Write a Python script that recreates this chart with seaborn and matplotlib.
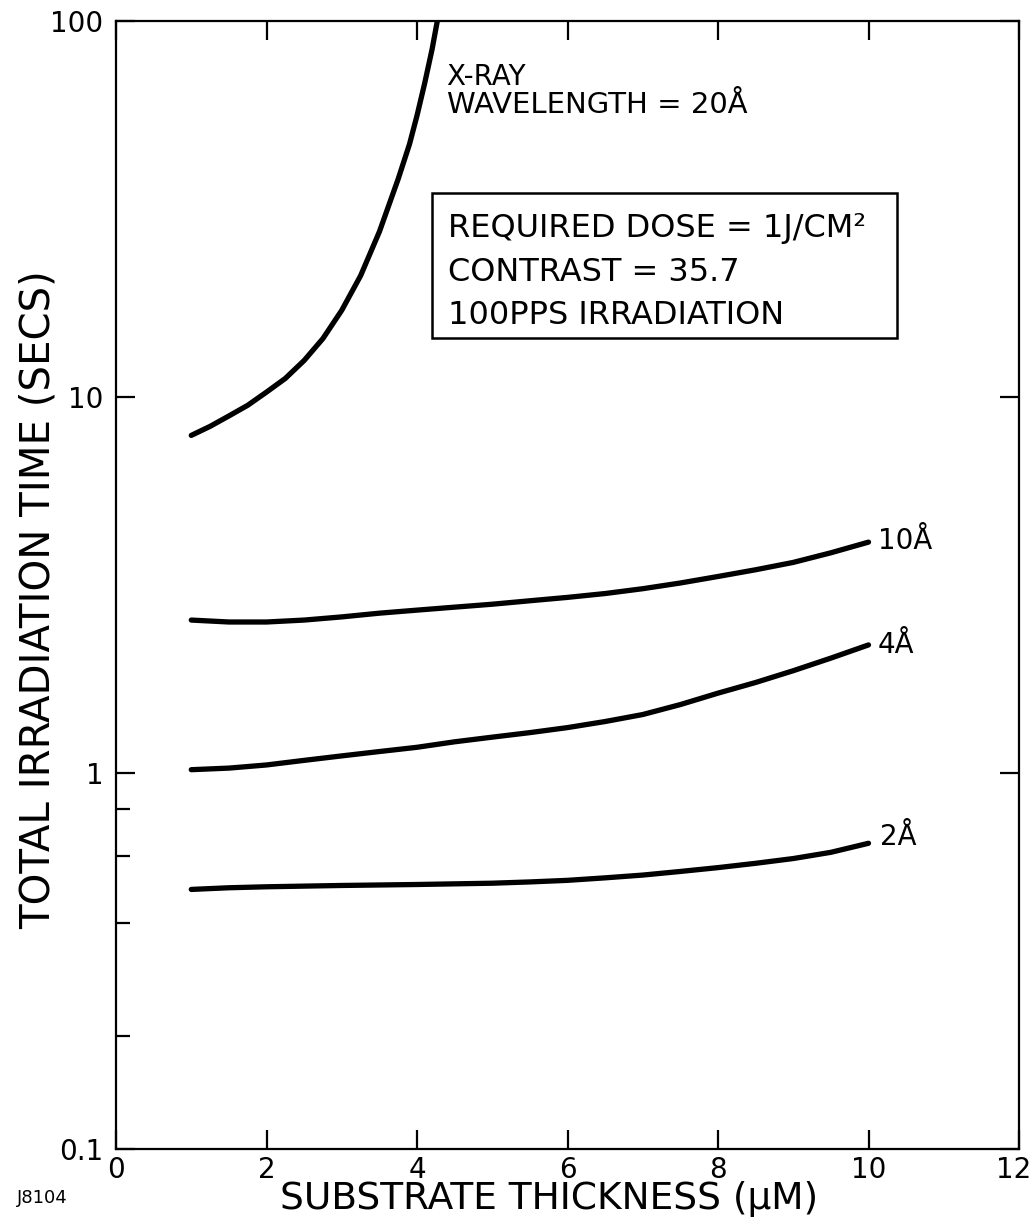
import numpy as np
import pandas as pd
import matplotlib
matplotlib.use("Agg")
import matplotlib.pyplot as plt
from matplotlib.patches import Rectangle
from matplotlib.ticker import FixedLocator, NullFormatter
from matplotlib.transforms import ScaledTranslation
import seaborn as sns

# Substrate thickness (um) and total irradiation time (s) for each X-ray wavelength
x_20 = [1.0, 1.25, 1.5, 1.75, 2.0, 2.25, 2.5, 2.75, 3.0, 3.25, 3.5, 3.75, 3.9, 4.0, 4.1, 4.2, 4.27]
t_20 = [7.9, 8.35, 8.9, 9.5, 10.3, 11.2, 12.5, 14.3, 17.0, 21.0, 27.5, 38.0, 47.0, 56.0, 68.0, 84.0, 100.0]

x_10 = [1.0, 1.5, 2.0, 2.5, 3.0, 3.5, 4.0, 4.5, 5.0, 5.5, 6.0, 6.5, 7.0, 7.5, 8.0, 8.5, 9.0, 9.5, 10.0]
t_10 = [2.55, 2.52, 2.52, 2.55, 2.6, 2.66, 2.71, 2.76, 2.81, 2.87, 2.93, 3.0, 3.09, 3.2, 3.33,
        3.47, 3.63, 3.85, 4.11]

x_4 = [1.0, 1.5, 2.0, 2.5, 3.0, 3.5, 4.0, 4.5, 5.0, 5.5, 6.0, 6.5, 7.0, 7.5, 8.0, 8.5, 9.0, 9.5, 10.0]
t_4 = [1.02, 1.03, 1.05, 1.08, 1.11, 1.14, 1.17, 1.21, 1.245, 1.28, 1.32, 1.37, 1.43, 1.52, 1.63,
       1.74, 1.87, 2.02, 2.19]

x_2 = [1.0, 1.5, 2.0, 3.0, 4.0, 5.0, 5.5, 6.0, 6.5, 7.0, 7.5, 8.0, 8.5, 9.0, 9.5, 10.0]
t_2 = [0.49, 0.495, 0.498, 0.502, 0.505, 0.509, 0.513, 0.518, 0.526, 0.535, 0.547, 0.56, 0.575,
       0.592, 0.615, 0.65]

wavelengths = ["20", "10", "4", "2"]
curve_labels = ["10Å", "4Å", "2Å"]

x_ticks = [0, 2, 4, 6, 8, 10, 12]
y_ticks = [0.1, 1, 10, 100]
y_tick_labels = ["0.1", "1", "10", "100"]
y_minor = [0.2, 0.4, 0.6, 0.8]

df = pd.concat([
    pd.DataFrame({"thickness": xs, "time": ts, "wavelength": w})
    for w, xs, ts in zip(wavelengths, [x_20, x_10, x_4, x_2], [t_20, t_10, t_4, t_2])
])

sns.set_style("ticks")
plt.rcParams["font.family"] = ["DejaVu Sans"]
plt.rcParams["axes.linewidth"] = 1.6
plt.rcParams["text.color"] = "black"
plt.rcParams["axes.labelcolor"] = "black"
plt.rcParams["xtick.color"] = "black"
plt.rcParams["ytick.color"] = "black"

fig = plt.figure(figsize=(10.34, 12.30), dpi=100)
ax = fig.add_axes([0.1122, 0.0659, 0.8733, 0.9171])

sns.lineplot(data=df, x="thickness", y="time", hue="wavelength",
             palette={w: "black" for w in wavelengths}, legend=False,
             sort=False, estimator=None, lw=3.8, ax=ax)
for line in ax.get_lines():
    line.set_solid_capstyle("round")
    line.set_solid_joinstyle("round")

ax.set_yscale("log")
ax.set_xlim(0, 12)
ax.set_ylim(0.1, 100)

ax.set_xticks(x_ticks)
ax.set_xticklabels([str(v) for v in x_ticks], fontsize=20)
ax.set_yticks(y_ticks)
ax.set_yticklabels(y_tick_labels, fontsize=20)
ax.yaxis.set_minor_locator(FixedLocator(y_minor))
ax.yaxis.set_minor_formatter(NullFormatter())

ax.tick_params(axis="both", which="major", direction="in", length=14,
               width=1.6, top=True, right=True, color="black")
ax.tick_params(axis="x", which="major", pad=5)
ax.tick_params(axis="y", which="major", pad=9)
ax.tick_params(axis="y", which="minor", direction="in", length=10,
               width=1.6, left=True, right=False)
ax.tick_params(axis="x", which="minor", bottom=False, top=False)

# keep the last x tick label inside the figure
last = ax.get_xticklabels()[-1]
last.set_transform(last.get_transform() + ScaledTranslation(-5 / 100, 0, fig.dpi_scale_trans))

for s in ax.spines.values():
    s.set_color("black")

ax.set_xlabel("SUBSTRATE THICKNESS (μM)", fontsize=27)
ax.set_ylabel("TOTAL IRRADIATION TIME (SECS)", fontsize=29)
ax.xaxis.set_label_coords(0.48, -0.0445)
ax.yaxis.set_label_coords(-0.086, 0.487)
ax.xaxis.label.set_va("center")
ax.yaxis.label.set_va("center")

# Curve labels at the right-hand ends
for lab, (xa, ya) in zip(curve_labels, [(0.844, 0.532), (0.843, 0.440), (0.846, 0.2695)]):
    ax.text(xa, ya, lab, transform=ax.transAxes, fontsize=20, ha="left", va="baseline")

ax.text(0.366, 0.9433, "X-RAY", transform=ax.transAxes, fontsize=20, va="baseline")
ax.text(0.366, 0.9184, "WAVELENGTH = 20Å", transform=ax.transAxes, fontsize=21, va="baseline")

# Conditions box
ax.add_patch(Rectangle((0.350, 0.719), 0.515, 0.1285, transform=ax.transAxes,
                       fill=False, edgecolor="black", lw=1.8))
box_lines = ["REQUIRED DOSE = 1J/CM²", "CONTRAST = 35.7", "100PPS IRRADIATION"]
for txt, yb in zip(box_lines, [0.8085, 0.7695, 0.7314]):
    ax.text(0.3677, yb, txt, transform=ax.transAxes, fontsize=23, va="baseline")

fig.text(17 / 1034, 1 - 1198 / 1230, "J8104", fontsize=13, va="center", ha="left")

fig.savefig("out.png", dpi=100, facecolor="white")
